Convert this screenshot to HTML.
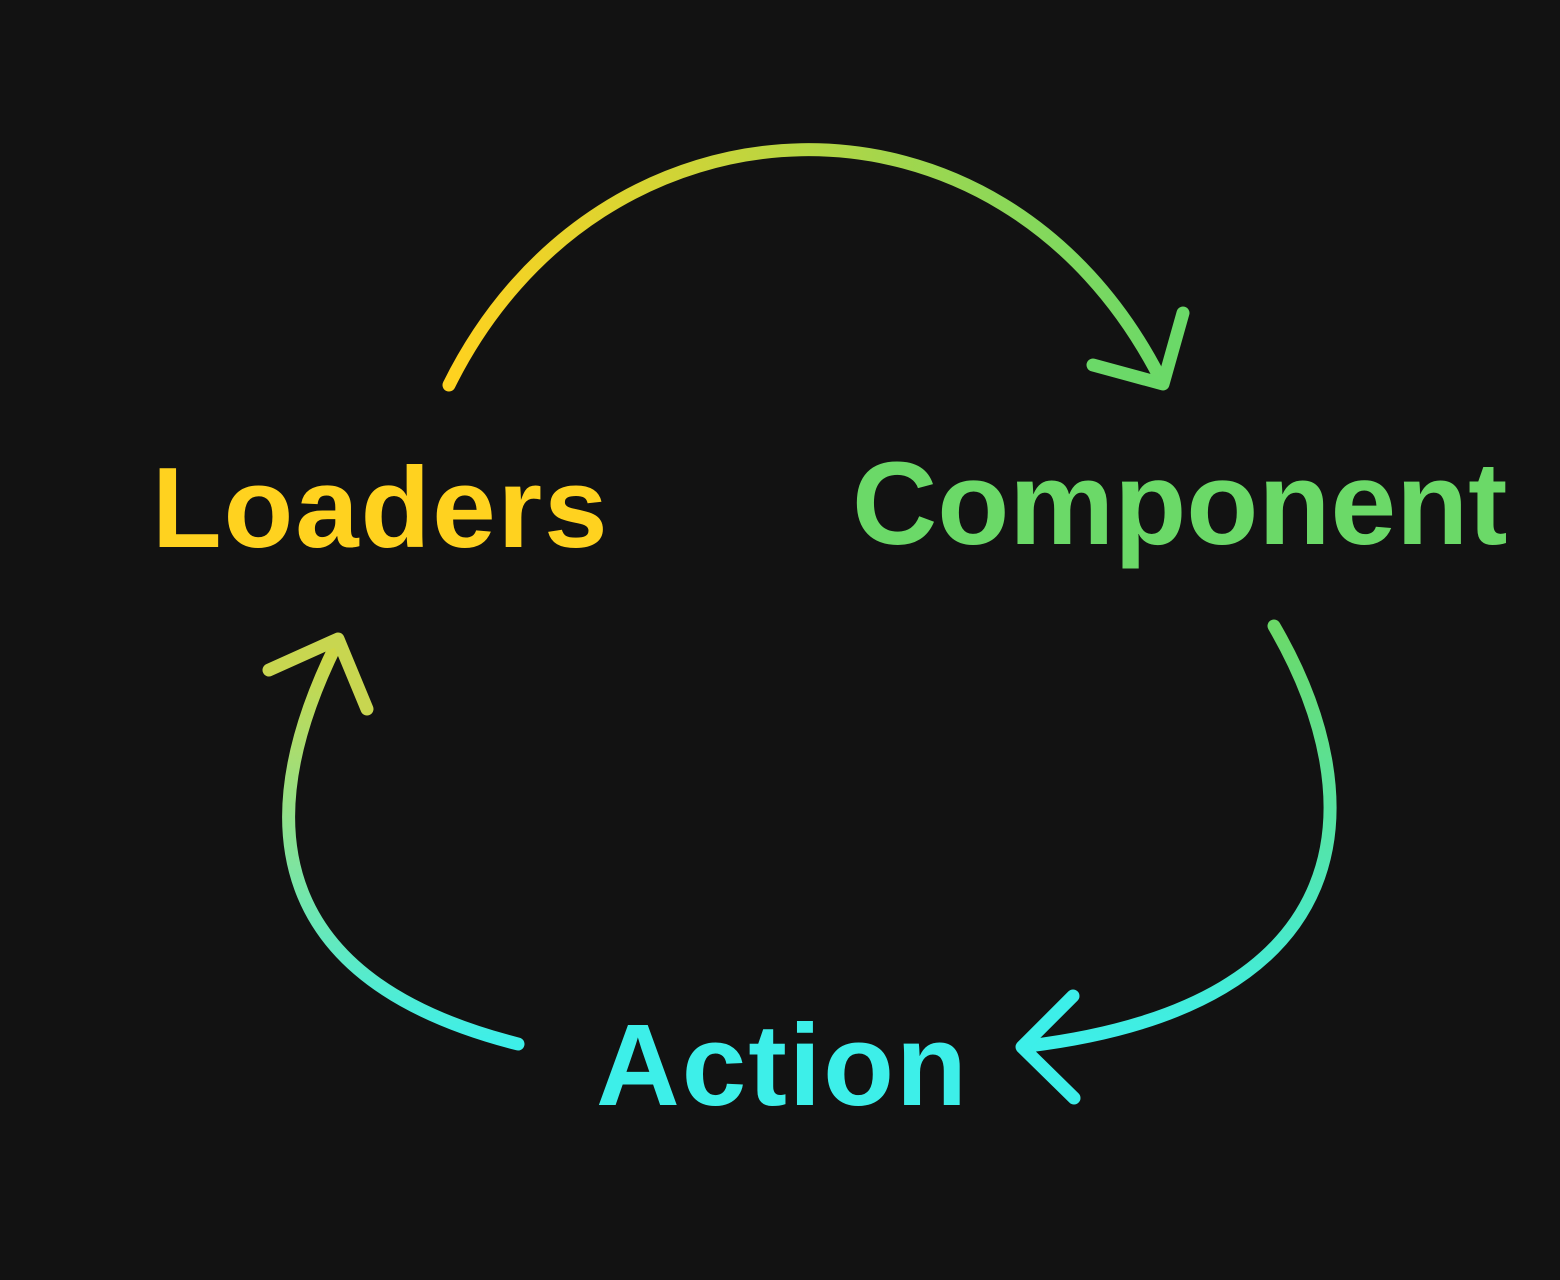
<!DOCTYPE html>
<html><head><style>
html,body{margin:0;padding:0;background:#121212;}
body{width:1560px;height:1280px;position:relative;overflow:hidden;}
.t{position:absolute;font-family:"Liberation Sans",sans-serif;font-weight:bold;white-space:nowrap;line-height:1;}
</style></head><body>
<svg width="1560" height="1280" style="position:absolute;left:0;top:0">
<defs>
<linearGradient id="g1" gradientUnits="userSpaceOnUse" x1="449" y1="0" x2="1163" y2="0">
<stop offset="0" stop-color="#FFD21F"/><stop offset="1" stop-color="#6BD968"/></linearGradient>
<linearGradient id="g2" gradientUnits="userSpaceOnUse" x1="0" y1="626" x2="0" y2="1046">
<stop offset="0" stop-color="#6BD968"/><stop offset="1" stop-color="#3DEFE9"/></linearGradient>
<linearGradient id="g3" gradientUnits="userSpaceOnUse" x1="0" y1="1044" x2="0" y2="640">
<stop offset="0" stop-color="#3DEFE9"/><stop offset="1" stop-color="#D2D641"/></linearGradient>
</defs>
<g fill="none" stroke-width="13" stroke-linecap="round" stroke-linejoin="round">
<path d="M449,385 C600,80 1000,65 1160,378" stroke="url(#g1)"/>
<path d="M1093,365 L1163,384 L1183,313" stroke="#6BD968"/>
<path d="M1274,626 C1375,800 1365,1005 1028,1046" stroke="url(#g2)"/>
<path d="M1073,996 L1022,1047 L1074,1098" stroke="#3DEFE9"/>
<path d="M518,1044 C285,985 240,840 336,645" stroke="url(#g3)"/>
<path d="M269,670 L338,639 L367,709" stroke="#C8D650"/>
</g>
</svg>
<div class="t" style="left:152px;top:452px;font-size:114px;letter-spacing:2px;color:#FFD21F;">Loaders</div>
<div class="t" style="left:852px;top:445px;font-size:118px;color:#6BD968;">Component</div>
<div class="t" style="left:596px;top:1007px;font-size:116px;letter-spacing:2px;color:#3DEFE9;">Action</div>
</body></html>
